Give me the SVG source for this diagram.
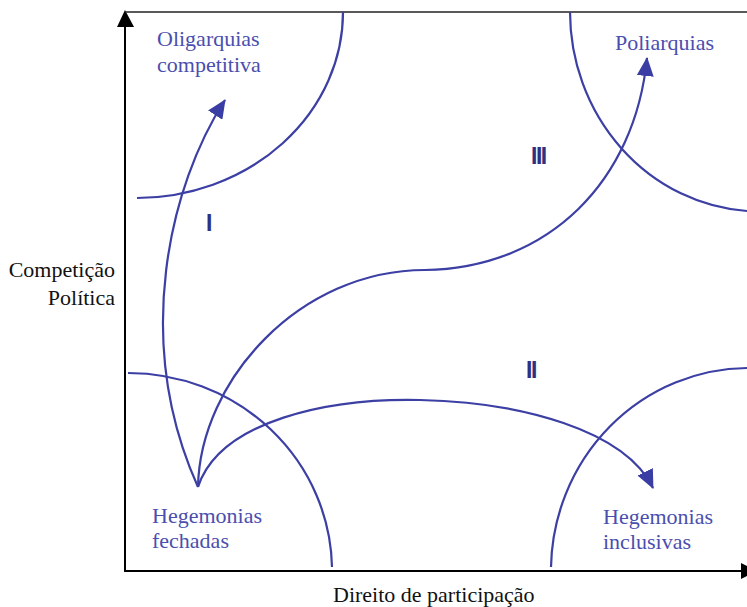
<svg xmlns="http://www.w3.org/2000/svg" width="747" height="607" viewBox="0 0 747 607">
<style>
.axis{stroke:#000;stroke-width:2;fill:none}
.arc{stroke:#3c3fa3;stroke-width:2.2;fill:none}
.arr{stroke:#3c3fa3;stroke-width:2.2;fill:none;marker-end:url(#ah)}
.lbl{font-family:"Liberation Serif","Times New Roman",serif;font-size:22px;fill:#4a4eae}
.ax{font-family:"Liberation Serif","Times New Roman",serif;font-size:22px;fill:#111}
.rn{font-family:"Liberation Sans",Arial,sans-serif;font-size:23px;font-weight:bold;fill:#2e3182;letter-spacing:-1.5px}
</style>
<defs>
<marker id="ah" markerUnits="userSpaceOnUse" markerWidth="19" markerHeight="17" viewBox="0 0 19 17" refX="18" refY="8.5" orient="auto">
<path d="M0,0 L19,8.5 L0,17 z" fill="#3a3da3"/>
</marker>
</defs>
<g id="axes">
<line class="axis" x1="125" y1="24" x2="125" y2="572"/>
<polygon points="125,10 117,27 134,27" fill="#000"/>
<line class="axis" x1="124" y1="571" x2="745" y2="571"/>
<polygon points="741,563 741,579 757,571" fill="#000"/>
<line x1="125" y1="12" x2="747" y2="12" stroke="#222" stroke-width="1.6"/>
</g>
<g id="regions">
<path class="arc" d="M343,12 A207,186 0 0 1 137,198"/>
<path class="arc" d="M570,12 A190,200 0 0 0 747,211"/>
<path class="arc" d="M128,373 A204,198 0 0 1 332,567"/>
<path class="arc" d="M551,567 A198,203 0 0 1 747,368"/>
</g>
<g id="connectors">
<path class="arr" d="M198,487 C132,340 170,185 225,100"/>
<path class="arr" d="M198,487 C200,380 300,270 425,270 C550,268 635,180 647,58"/>
<path class="arr" d="M198,487 C220,420 330,398 420,400 C520,402 625,430 653,488"/>
</g>
<g id="node-oligarquias">
<text class="lbl" x="157" y="46">Oligarquias</text>
<text class="lbl" x="157" y="72">competitiva</text>
</g>
<g id="node-poliarquias">
<text class="lbl" x="615" y="50">Poliarquias</text>
</g>
<g id="node-hegemonias-fechadas">
<text class="lbl" x="152" y="523">Hegemonias</text>
<text class="lbl" x="152" y="548">fechadas</text>
</g>
<g id="node-hegemonias-inclusivas">
<text class="lbl" x="603" y="524">Hegemonias</text>
<text class="lbl" x="603" y="549">inclusivas</text>
</g>
<g id="region-labels">
<text class="rn" x="206" y="231">I</text>
<text class="rn" x="526" y="378">II</text>
<text class="rn" x="531" y="164">III</text>
</g>
<g id="axis-labels">
<text class="ax" x="115" y="277" text-anchor="end">Competição</text>
<text class="ax" x="115" y="305" text-anchor="end">Política</text>
<text class="ax" x="333" y="602">Direito de participação</text>
</g>
</svg>
